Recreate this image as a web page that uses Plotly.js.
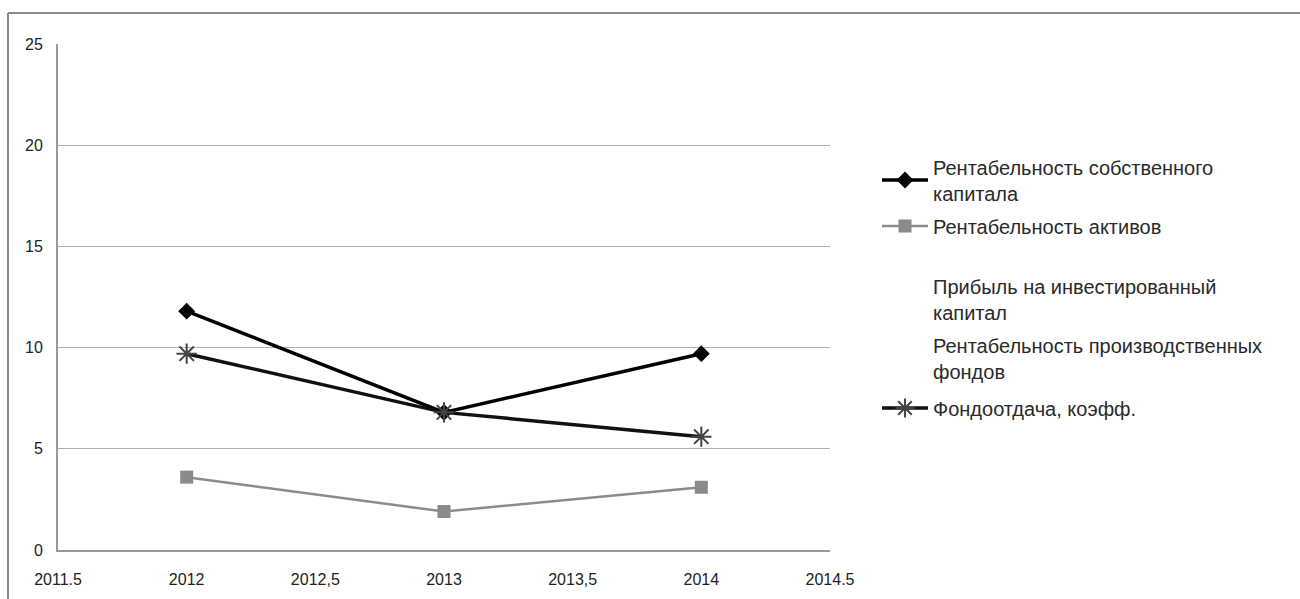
<!DOCTYPE html>
<html>
<head>
<meta charset="utf-8">
<script src="https://cdn.plot.ly/plotly-3.0.1.min.js"></script>
<style>
html,body{margin:0;padding:0;background:#fff;}
#chart{width:1300px;height:599px;}
</style>
</head>
<body>
<div id="chart"></div>
<script>
const years = [2012, 2013, 2014];
const roe = [11.8, 6.8, 9.7];
const roa = [3.6, 1.9, 3.1];
const roic = [null, null, null];
const ropf = [null, null, null];
const fondootdacha = [9.7, 6.8, 5.6];

const seriesNames = [
  'Рентабельность собственного<br>капитала',
  'Рентабельность активов',
  'Прибыль на инвестированный<br>капитал',
  'Рентабельность производственных<br>фондов',
  'Фондоотдача, коэфф.'
];

const xTickVals = [2011.5, 2012, 2012.5, 2013, 2013.5, 2014, 2014.5];
const xTickText = ['2011.5', '2012', '2012,5', '2013', '2013,5', '2014', '2014.5'];
const yTickVals = [0, 5, 10, 15, 20, 25];

const FONT = 'Liberation Sans, Arial, sans-serif';

const traces = [
  {x: years, y: roe, name: seriesNames[0], mode: 'lines+markers', legend: 'legend',
   line: {color: '#000000', width: 3.5}, marker: {symbol: 'diamond', size: 13, color: '#000000'}},
  {x: years, y: roa, name: seriesNames[1], mode: 'lines+markers', legend: 'legend2',
   line: {color: '#8c8c8c', width: 2.5}, marker: {symbol: 'square', size: 13, color: '#8a8a8a'}},
  {x: years, y: roic, name: seriesNames[2], mode: 'lines', legend: 'legend3',
   line: {color: 'rgba(255,255,255,0)', width: 2}},
  {x: years, y: ropf, name: seriesNames[3], mode: 'lines', legend: 'legend4',
   line: {color: 'rgba(255,255,255,0)', width: 2}},
  {x: years, y: fondootdacha, name: seriesNames[4], mode: 'lines+markers', legend: 'legend5',
   line: {color: '#111111', width: 3.5}, marker: {symbol: 'asterisk-open', size: 17, color: '#444444', line: {color: '#444444', width: 2}}}
];

function leg(yc) {
  return {xref: 'container', yref: 'container', x: 877/1300, y: 1 - yc/599,
          xanchor: 'left', yanchor: 'middle', bgcolor: 'rgba(0,0,0,0)',
          font: {family: FONT, size: 20, color: '#2a2a2a'}, itemwidth: 46};
}

const layout = {
  width: 1300, height: 599,
  margin: {l: 58, r: 470, t: 44, b: 49},
  paper_bgcolor: '#ffffff', plot_bgcolor: '#ffffff',
  font: {family: FONT, color: '#222'},
  showlegend: true,
  legend: leg(180), legend2: leg(226), legend3: leg(299.5), legend4: leg(358.5), legend5: leg(408),
  xaxis: {
    range: [2011.5, 2014.5], tickmode: 'array', tickvals: xTickVals, ticktext: xTickText,
    showgrid: false, zeroline: false, showline: true, linecolor: '#9a9a9a', linewidth: 2,
    ticks: '', ticklabelstandoff: 14, tickfont: {family: FONT, size: 16, color: '#222'}
  },
  yaxis: {
    range: [0, 25], tickmode: 'array', tickvals: yTickVals,
    showgrid: true, gridcolor: '#b0b0b0', gridwidth: 1, zeroline: false,
    showline: true, linecolor: '#9a9a9a', linewidth: 2,
    ticks: '', ticklabelstandoff: 10, tickfont: {family: FONT, size: 16, color: '#222'}
  },
  shapes: [
    {type: 'line', xref: 'paper', yref: 'paper', x0: (8-58)/772, x1: (8-58)/772, y0: (550-13)/506, y1: (550-599)/506,
     line: {color: '#8a8a8a', width: 2}},
    {type: 'line', xref: 'paper', yref: 'paper', x0: (8-58)/772, x1: (1300-58)/772, y0: (550-13)/506, y1: (550-13)/506,
     line: {color: '#8a8a8a', width: 2}}
  ]
};

Plotly.newPlot('chart', traces, layout, {displayModeBar: false, staticPlot: true});
</script>
</body>
</html>
